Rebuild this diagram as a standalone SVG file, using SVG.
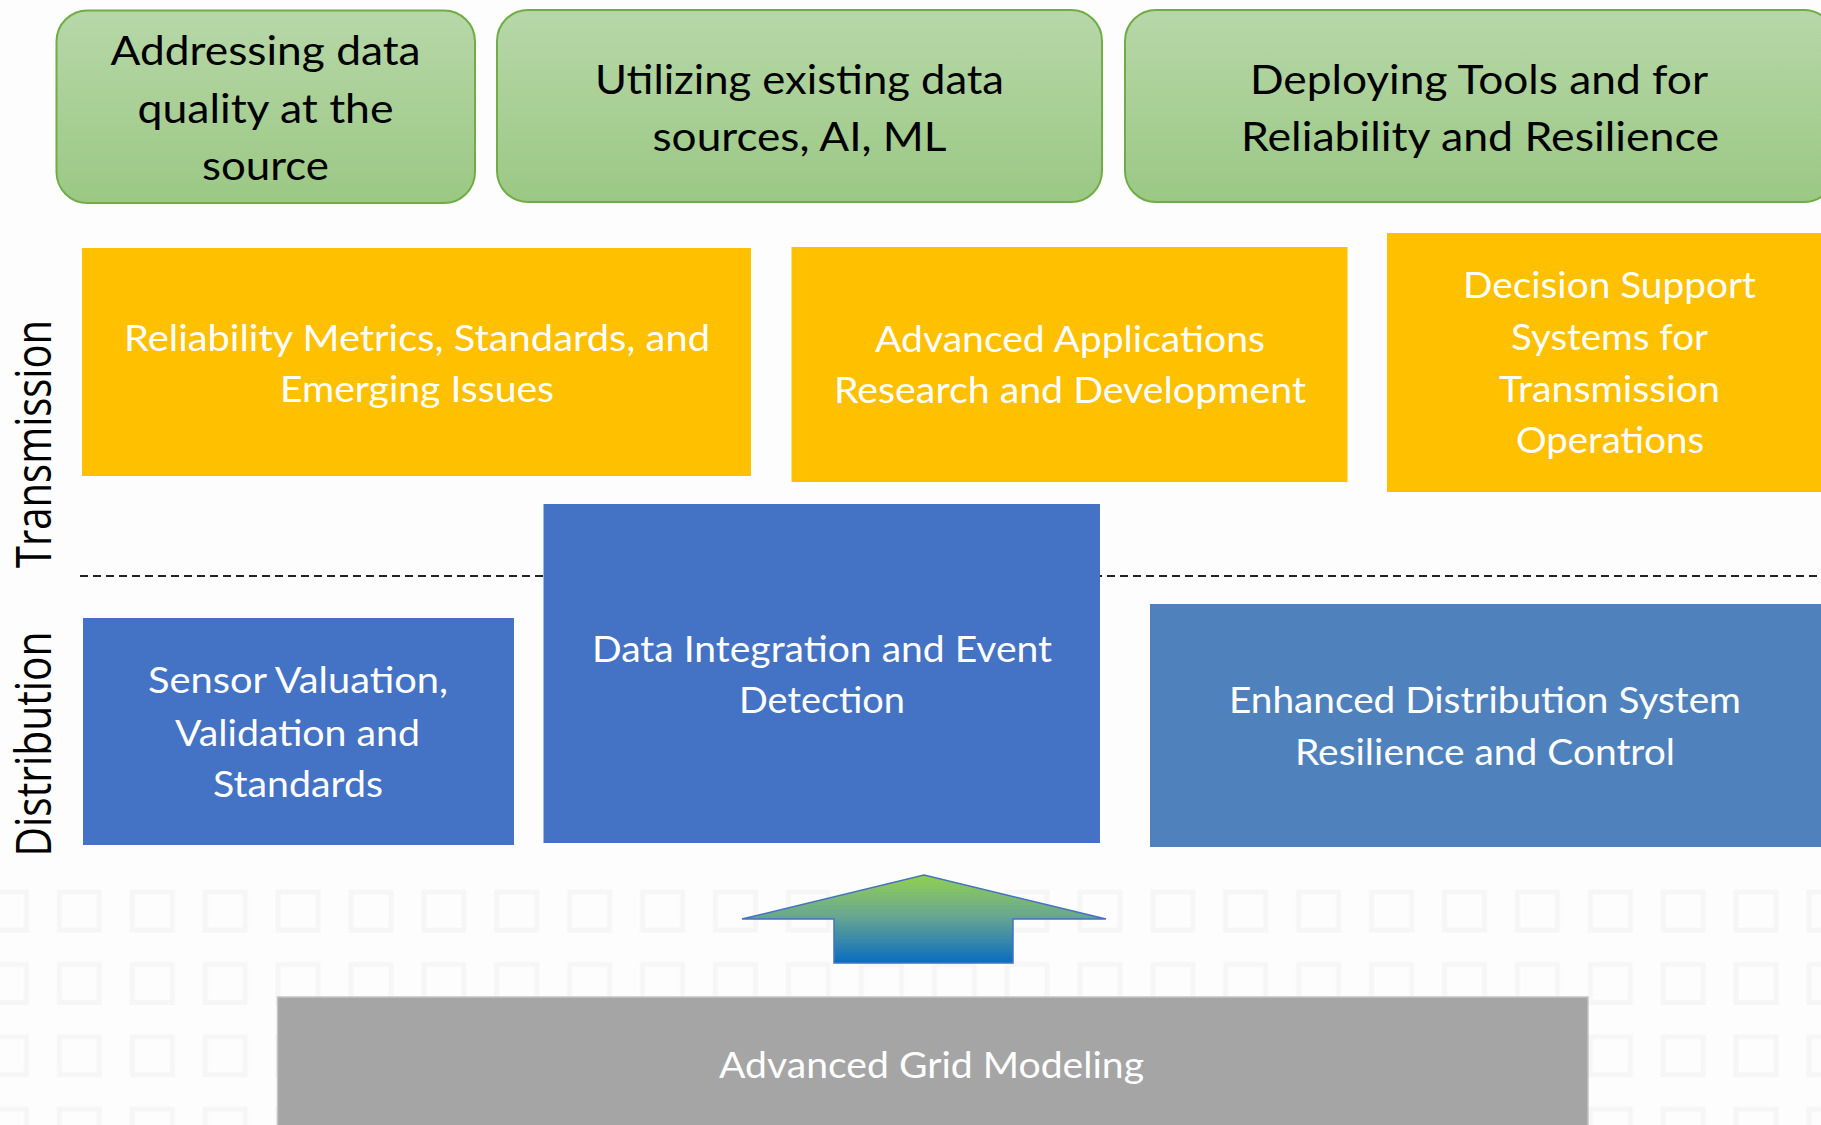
<svg xmlns="http://www.w3.org/2000/svg" width="1821" height="1125" viewBox="0 0 1821 1125">
  <defs>
    <linearGradient id="gGreen" x1="0" y1="0" x2="0" y2="1">
      <stop offset="0" stop-color="#b7d7a8"/>
      <stop offset="1" stop-color="#9bc884"/>
    </linearGradient>
    <linearGradient id="gArrow" x1="0" y1="0" x2="0" y2="1">
      <stop offset="0" stop-color="#92d050"/>
      <stop offset="0.45" stop-color="#6aa890"/>
      <stop offset="1" stop-color="#0a6cc2"/>
    </linearGradient>
    <!-- faint tile texture of the slide background -->
    <pattern id="tiles" x="-17.5" y="20.5" width="72.9" height="72.3" patternUnits="userSpaceOnUse">
      <rect x="4" y="4" width="40" height="38" fill="none" stroke="#f6f6f6" stroke-width="5"/>
    </pattern>
    <style>
      .green { fill: url(#gGreen); stroke: #70ad47; stroke-width: 2; }
      .yellow { fill: #ffc000; }
      .blue { fill: #4472c4; }
      .blue2 { fill: #4f81bd; }
      .gray { fill: #a5a5a5; stroke: #c4c4c4; stroke-width: 1.5; }
      .dk { font-family: "Lato", "Liberation Sans", sans-serif; font-size: 40px; fill: #000; text-anchor: middle; }
      .wt { font-family: "Lato", "Liberation Sans", sans-serif; font-size: 36px; fill: #fff; text-anchor: middle; }
      .lbl { font-family: "Open Sans", "DejaVu Sans", sans-serif; font-size: 50px; fill: #000; text-anchor: middle; }
    </style>
  </defs>

  <rect x="0" y="0" width="1821" height="1125" fill="#fdfdfd"/>
  <rect x="0" y="870" width="1821" height="255" fill="url(#tiles)"/>

  <!-- tier labels -->
  <g id="label-transmission">
    <text class="lbl" transform="translate(50.7,444) rotate(-90)" textLength="248" lengthAdjust="spacingAndGlyphs">Transmission</text>
  </g>
  <g id="label-distribution">
    <text class="lbl" transform="translate(50.7,744) rotate(-90)" textLength="225" lengthAdjust="spacingAndGlyphs">Distribution</text>
  </g>

  <!-- connectors: tier divider and upward arrow -->
  <g id="connectors">
    <line x1="80" y1="576" x2="1821" y2="576" stroke="#222" stroke-width="2" stroke-dasharray="8 5"/>
    <polygon points="924,875 1106,919 1013,919 1013,963 834,963 834,919 742,919" fill="url(#gArrow)" stroke="#4472c4" stroke-width="1.5" stroke-linejoin="miter"/>
  </g>

  <!-- goals -->
  <g id="goal-quality">
    <rect class="green" x="56.5" y="10.5" width="418.5" height="192.5" rx="31"/>
    <text class="dk" x="265.5" y="65" textLength="310" lengthAdjust="spacingAndGlyphs">Addressing data</text>
    <text class="dk" x="265.5" y="122.5" textLength="256" lengthAdjust="spacingAndGlyphs">quality at the</text>
    <text class="dk" x="265.5" y="180" textLength="127" lengthAdjust="spacingAndGlyphs">source</text>
  </g>
  <g id="goal-existing">
    <rect class="green" x="497" y="10" width="605" height="192" rx="31"/>
    <text class="dk" x="799.5" y="94" textLength="409" lengthAdjust="spacingAndGlyphs">Utilizing existing data</text>
    <text class="dk" x="799.5" y="151" textLength="294" lengthAdjust="spacingAndGlyphs">sources, AI, ML</text>
  </g>
  <g id="goal-tools">
    <rect class="green" x="1125" y="10" width="710" height="192" rx="31"/>
    <text class="dk" x="1479" y="93.5" textLength="458" lengthAdjust="spacingAndGlyphs">Deploying Tools and for</text>
    <text class="dk" x="1480" y="151" textLength="478" lengthAdjust="spacingAndGlyphs">Reliability and Resilience</text>
  </g>

  <!-- transmission tier -->
  <g id="tx-metrics">
    <rect class="yellow" x="82" y="248" width="669" height="228"/>
    <text class="wt" x="417" y="351" textLength="586" lengthAdjust="spacingAndGlyphs">Reliability Metrics, Standards, and</text>
    <text class="wt" x="417" y="402" textLength="274" lengthAdjust="spacingAndGlyphs">Emerging Issues</text>
  </g>
  <g id="tx-applications">
    <rect class="yellow" x="791.5" y="247" width="556" height="235"/>
    <text class="wt" x="1070" y="352" textLength="390" lengthAdjust="spacingAndGlyphs">Advanced Applications</text>
    <text class="wt" x="1070" y="403" textLength="472" lengthAdjust="spacingAndGlyphs">Research and Development</text>
  </g>
  <g id="tx-decision">
    <rect class="yellow" x="1387" y="233" width="450" height="259"/>
    <text class="wt" x="1609.5" y="298" textLength="293" lengthAdjust="spacingAndGlyphs">Decision Support</text>
    <text class="wt" x="1609.5" y="350" textLength="197" lengthAdjust="spacingAndGlyphs">Systems for</text>
    <text class="wt" x="1609.5" y="402" textLength="221" lengthAdjust="spacingAndGlyphs">Transmission</text>
    <text class="wt" x="1610" y="453" textLength="188" lengthAdjust="spacingAndGlyphs">Operations</text>
  </g>

  <!-- distribution tier -->
  <g id="dx-sensor">
    <rect class="blue" x="83" y="618" width="431" height="227"/>
    <text class="wt" x="298" y="693" textLength="300" lengthAdjust="spacingAndGlyphs">Sensor Valuation,</text>
    <text class="wt" x="297.5" y="746" textLength="245" lengthAdjust="spacingAndGlyphs">Validation and</text>
    <text class="wt" x="298" y="797" textLength="170" lengthAdjust="spacingAndGlyphs">Standards</text>
  </g>
  <g id="dx-integration">
    <rect class="blue" x="543.5" y="504" width="556.5" height="339"/>
    <text class="wt" x="822" y="662" textLength="460" lengthAdjust="spacingAndGlyphs">Data Integration and Event</text>
    <text class="wt" x="822" y="713" textLength="166" lengthAdjust="spacingAndGlyphs">Detection</text>
  </g>
  <g id="dx-resilience">
    <rect class="blue2" x="1150" y="604" width="690" height="243"/>
    <text class="wt" x="1485" y="713" textLength="512" lengthAdjust="spacingAndGlyphs">Enhanced Distribution System</text>
    <text class="wt" x="1485" y="765" textLength="380" lengthAdjust="spacingAndGlyphs">Resilience and Control</text>
  </g>

  <!-- foundation -->
  <g id="grid-modeling">
    <rect class="gray" x="277.5" y="997" width="1310.5" height="140"/>
    <text class="wt" x="931.5" y="1078" textLength="425" lengthAdjust="spacingAndGlyphs">Advanced Grid Modeling</text>
  </g>
</svg>
